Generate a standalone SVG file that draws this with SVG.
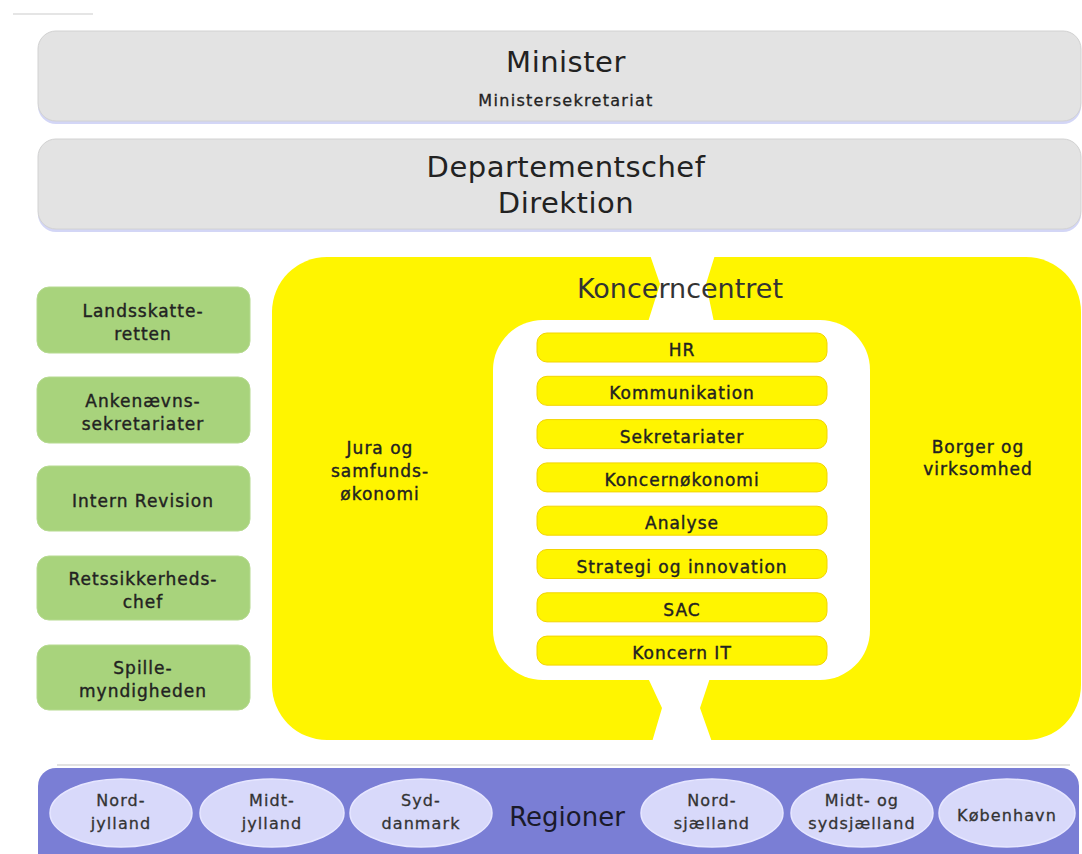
<svg xmlns="http://www.w3.org/2000/svg" width="1082" height="854" viewBox="0 0 1082 854">
  <style>
    text { font-family: "DejaVu Sans", Verdana, sans-serif; fill: #222; text-anchor: middle; }
    .big { font-size: 29px; letter-spacing: 0.5px; }
    .sub { font-size: 16px; letter-spacing: 1.3px; stroke: #222; stroke-width: 0.3px; }
    .mid { font-size: 17px; letter-spacing: 1px; stroke: #222; stroke-width: 0.4px; }
    .reg { font-size: 16px; letter-spacing: 1.1px; fill: #333; stroke: #333; stroke-width: 0.3px; }
    .grey { fill: #E3E3E3; stroke: #D2D2D2; stroke-width: 1; }
    .greyShadow { fill: #D3D6F6; }
    .green { fill: #A8D37C; stroke: #B6DA90; stroke-width: 1; }
    .yellow { fill: #FFF500; }
    .bar { fill: #FFF500; stroke: #F3D400; stroke-width: 1; }
    .ell { fill: #D8D9FA; stroke: #E6E6FF; stroke-width: 1.5; }
  </style>

  <line x1="13" y1="14" x2="93" y2="14" stroke="#DCDCDC" stroke-width="1.5"/>

  <g id="minister">
    <rect class="greyShadow" x="38" y="33" width="1043" height="91" rx="18"/>
    <rect class="grey" x="38" y="31" width="1043" height="90" rx="18"/>
    <text class="big" x="566" y="72">Minister</text>
    <text class="sub" x="566" y="106">Ministersekretariat</text>
  </g>

  <g id="departementschef">
    <rect class="greyShadow" x="38" y="141" width="1043" height="91" rx="18"/>
    <rect class="grey" x="38" y="139" width="1043" height="90" rx="18"/>
    <text class="big" x="566" y="177">Departementschef</text>
    <text class="big" x="566" y="213">Direktion</text>
  </g>

  <g id="koncerncentret">
    <rect class="yellow" x="272" y="257" width="809" height="483" rx="55"/>
    <rect fill="#FFFFFF" x="493" y="320" width="377" height="360" rx="50"/>
    <polygon fill="#FFFFFF" points="650,255 660,284 648,322 714,322 706,284 715,255"/>
    <polygon fill="#FFFFFF" points="648,678 662,708 652,742 712,742 700,708 710,678"/>
    <text x="680" y="298" style="font-size:27px;fill:#333">Koncerncentret</text>
  </g>

  <g id="jura">
    <text class="mid" x="380" y="454">Jura og</text>
    <text class="mid" x="380" y="477">samfunds-</text>
    <text class="mid" x="380" y="500">økonomi</text>
  </g>

  <g id="borger">
    <text class="mid" x="978" y="453">Borger og</text>
    <text class="mid" x="978" y="475">virksomhed</text>
  </g>

  <g id="hr"><rect class="bar" x="537" y="333" width="290" height="29" rx="10"/><text class="mid" x="682" y="356">HR</text></g>
  <g id="kommunikation"><rect class="bar" x="537" y="376.3" width="290" height="29" rx="10"/><text class="mid" x="682" y="399.3">Kommunikation</text></g>
  <g id="sekretariater"><rect class="bar" x="537" y="419.6" width="290" height="29" rx="10"/><text class="mid" x="682" y="442.6">Sekretariater</text></g>
  <g id="koncernokonomi"><rect class="bar" x="537" y="462.9" width="290" height="29" rx="10"/><text class="mid" x="682" y="485.9">Koncernøkonomi</text></g>
  <g id="analyse"><rect class="bar" x="537" y="506.2" width="290" height="29" rx="10"/><text class="mid" x="682" y="529.2">Analyse</text></g>
  <g id="strategi"><rect class="bar" x="537" y="549.5" width="290" height="29" rx="10"/><text class="mid" x="682" y="572.5">Strategi og innovation</text></g>
  <g id="sac"><rect class="bar" x="537" y="592.8" width="290" height="29" rx="10"/><text class="mid" x="682" y="615.8">SAC</text></g>
  <g id="koncernit"><rect class="bar" x="537" y="636.1" width="290" height="29" rx="10"/><text class="mid" x="682" y="659.1">Koncern IT</text></g>

  <g id="landsskatteretten">
    <rect class="green" x="37" y="287" width="213" height="66" rx="12"/>
    <text class="mid" x="143" y="317">Landsskatte-</text>
    <text class="mid" x="143" y="340">retten</text>
  </g>
  <g id="ankenaevn">
    <rect class="green" x="37" y="377" width="213" height="66" rx="12"/>
    <text class="mid" x="143" y="406.5">Ankenævns-</text>
    <text class="mid" x="143" y="429.5">sekretariater</text>
  </g>
  <g id="internrevision">
    <rect class="green" x="37" y="466" width="213" height="65" rx="12"/>
    <text class="mid" x="143" y="507">Intern Revision</text>
  </g>
  <g id="retssikkerhedschef">
    <rect class="green" x="37" y="556" width="213" height="64" rx="12"/>
    <text class="mid" x="143" y="584.5">Retssikkerheds-</text>
    <text class="mid" x="143" y="607.5">chef</text>
  </g>
  <g id="spillemyndigheden">
    <rect class="green" x="37" y="645" width="213" height="65" rx="12"/>
    <text class="mid" x="143" y="674">Spille-</text>
    <text class="mid" x="143" y="697">myndigheden</text>
  </g>

  <g id="regioner">
    <line x1="57" y1="765" x2="1070" y2="765" stroke="#E2E2E2" stroke-width="2"/>
    <rect x="38" y="768" width="1041" height="110" rx="18" fill="#7A7ED5"/>
    <text x="567" y="826" style="font-size:26px;fill:#1a1a2a">Regioner</text>
  </g>
  <g id="nordjylland">
    <ellipse class="ell" cx="121" cy="813" rx="71" ry="34"/>
    <text class="reg" x="121" y="806">Nord-</text>
    <text class="reg" x="121" y="829">jylland</text>
  </g>
  <g id="midtjylland">
    <ellipse class="ell" cx="272" cy="813" rx="72" ry="34"/>
    <text class="reg" x="272" y="806">Midt-</text>
    <text class="reg" x="272" y="829">jylland</text>
  </g>
  <g id="syddanmark">
    <ellipse class="ell" cx="421" cy="813" rx="71" ry="34"/>
    <text class="reg" x="421" y="806">Syd-</text>
    <text class="reg" x="421" y="829">danmark</text>
  </g>
  <g id="nordsjaelland">
    <ellipse class="ell" cx="712" cy="813" rx="71" ry="34"/>
    <text class="reg" x="712" y="806">Nord-</text>
    <text class="reg" x="712" y="829">sjælland</text>
  </g>
  <g id="midtsydsjaelland">
    <ellipse class="ell" cx="862" cy="813" rx="71" ry="34"/>
    <text class="reg" x="862" y="806">Midt- og</text>
    <text class="reg" x="862" y="829">sydsjælland</text>
  </g>
  <g id="kobenhavn">
    <ellipse class="ell" cx="1007" cy="813" rx="68" ry="34"/>
    <text class="reg" x="1007" y="821">København</text>
  </g>

  <g id="connectors"/>
</svg>
